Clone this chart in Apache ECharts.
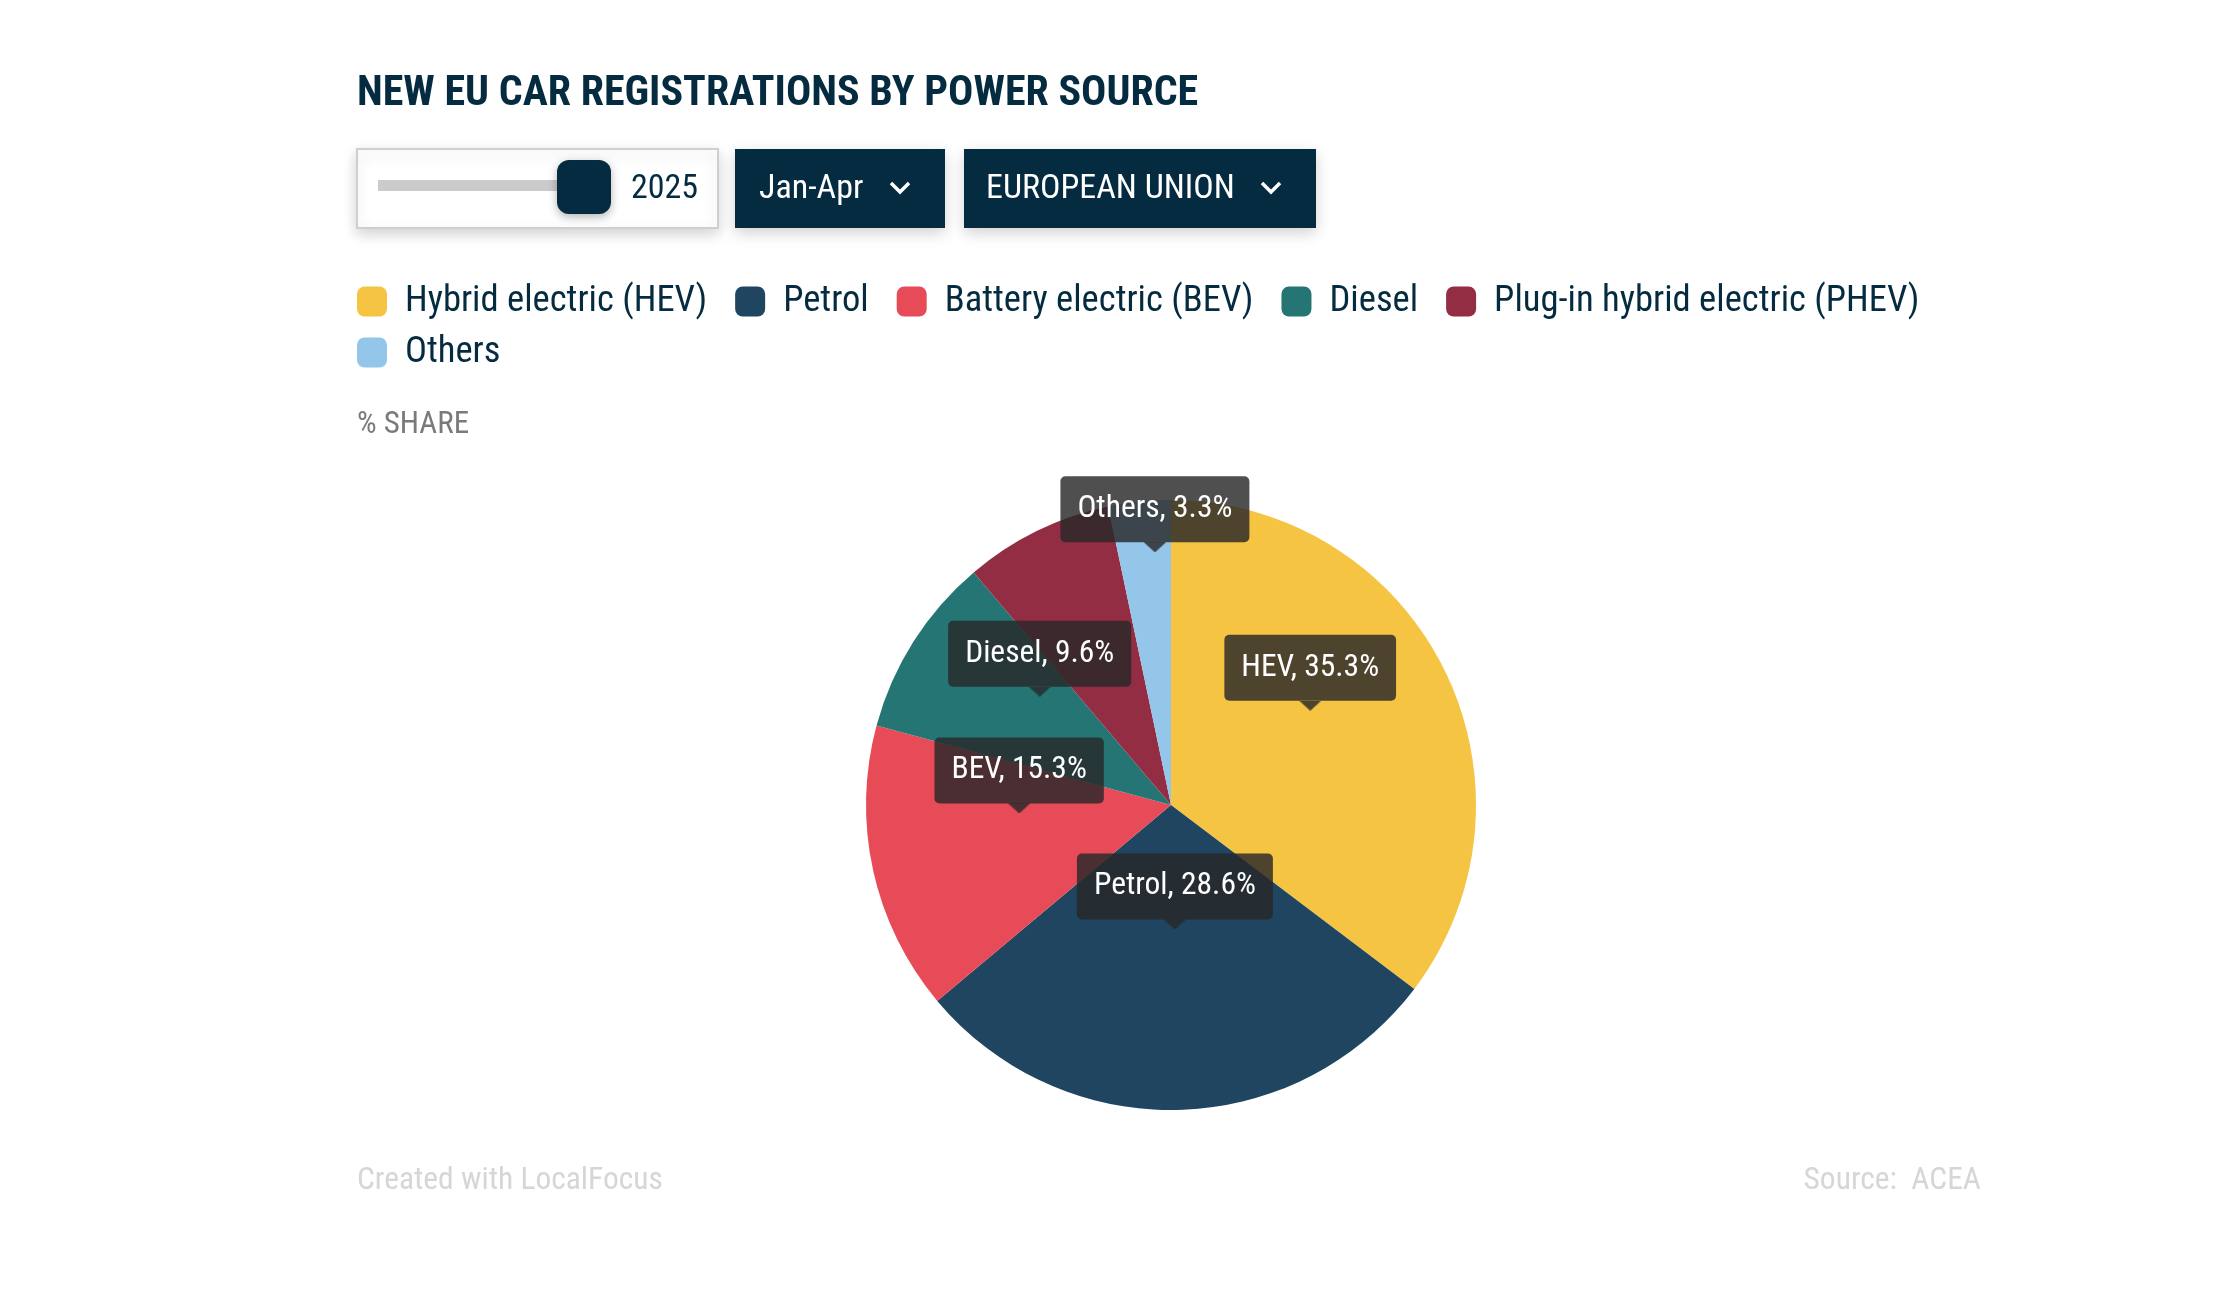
<!DOCTYPE html>
<html>
<head>
    <meta charset="UTF-8">
    <title>New EU car registrations by power source</title>
    <script type="text/javascript" src="https://cdn.jsdelivr.net/npm/echarts@6/dist/echarts.min.js"></script>
    <style>
        body,html{ padding:0px; margin:0px; background:#fff;}
        #chart_box{ width:2222px; height:1294px; }
    </style>
</head>
<body>
<div id="chart_box"></div>
<script type="text/javascript">
// data (% share, Jan-Apr 2025, EU)
var categories = ['Hybrid electric (HEV)', 'Petrol', 'Battery electric (BEV)', 'Diesel', 'Plug-in hybrid electric (PHEV)', 'Others'];
var shortNames = ['HEV', 'Petrol', 'BEV', 'Diesel', 'PHEV', 'Others'];
var shares = [35.3, 28.6, 15.3, 9.6, 7.9, 3.3];
var colors = ['#F6C443', '#1F4560', '#E84B58', '#247573', '#922D43', '#93C6E8'];

var FONT = '"Roboto Condensed", Roboto, sans-serif';
var NAVY = '#052B40';
var TIP = 'rgba(40,40,40,0.82)';

// how far each tooltip sits above its slice point (Others is pushed up so it clears PHEV)
var labelLift = [-46, -52, -46, -46, -46, -119];

// little pointer under each tooltip box
var arrow = document.createElement('canvas');
arrow.width = 22;
arrow.height = 10;
var actx = arrow.getContext('2d');
actx.fillStyle = TIP;
actx.beginPath();
actx.moveTo(0, 0);
actx.lineTo(22, 0);
actx.lineTo(11, 10);
actx.closePath();
actx.fill();

var myChart = echarts.init(document.getElementById('chart_box'));

var pieData = shares.map(function (v, i) {
    return {
        name: categories[i],
        value: v,
        itemStyle: { color: colors[i] },
        label: { offset: [0, labelLift[i]] }
    };
});

var option = {
    animation: false,
    title: {
        text: 'NEW EU CAR REGISTRATIONS BY POWER SOURCE',
        left: 352,
        top: 68,
        textStyle: { fontFamily: FONT, fontWeight: 'bold', fontSize: 42, color: NAVY }
    },
    legend: [{
        data: categories.slice(0, 5),
        left: 352, top: 278,
        orient: 'horizontal',
        icon: 'roundRect',
        itemWidth: 30, itemHeight: 30, itemGap: 28,
        textStyle: { fontFamily: FONT, fontSize: 36.6, color: NAVY, padding: [0, 0, 0, 13] }
    }, {
        data: categories.slice(5),
        left: 352, top: 329,
        icon: 'roundRect',
        itemWidth: 30, itemHeight: 30,
        textStyle: { fontFamily: FONT, fontSize: 36.6, color: NAVY, padding: [0, 0, 0, 13] }
    }],
    graphic: [
        // year slider
        { type: 'rect', shape: { x: 357, y: 149, width: 361, height: 79 },
          style: { fill: '#fff', stroke: '#cfcfcf', lineWidth: 2, shadowBlur: 14, shadowOffsetY: 5, shadowColor: 'rgba(0,0,0,0.18)' } },
        { type: 'rect', shape: { x: 378, y: 180, width: 190, height: 11 }, style: { fill: '#cbcbcb' } },
        { type: 'rect', shape: { x: 557, y: 160, width: 54, height: 54, r: 12 },
          style: { fill: NAVY, shadowBlur: 10, shadowOffsetY: 3, shadowColor: 'rgba(0,0,0,0.3)' } },
        { type: 'text', x: 631, y: 189,
          style: { text: '2025', fontFamily: FONT, fontSize: 34, fill: NAVY, verticalAlign: 'middle' } },
        // period dropdown
        { type: 'rect', shape: { x: 735, y: 149, width: 210, height: 79 },
          style: { fill: NAVY, shadowBlur: 14, shadowOffsetY: 5, shadowColor: 'rgba(0,0,0,0.18)' } },
        { type: 'text', x: 759, y: 189,
          style: { text: 'Jan-Apr', fontFamily: FONT, fontSize: 34, fill: '#fff', verticalAlign: 'middle' } },
        { type: 'polyline', shape: { points: [[891, 183], [900, 192], [909, 183]] },
          style: { stroke: '#fff', lineWidth: 3.5, fill: null } },
        // region dropdown
        { type: 'rect', shape: { x: 964, y: 149, width: 352, height: 79 },
          style: { fill: NAVY, shadowBlur: 14, shadowOffsetY: 5, shadowColor: 'rgba(0,0,0,0.18)' } },
        { type: 'text', x: 986, y: 189,
          style: { text: 'EUROPEAN UNION', fontFamily: FONT, fontSize: 34, fill: '#fff', verticalAlign: 'middle' } },
        { type: 'polyline', shape: { points: [[1262, 183], [1271, 192], [1280, 183]] },
          style: { stroke: '#fff', lineWidth: 3.5, fill: null } },
        // captions
        { type: 'text', x: 357, y: 425,
          style: { text: '% SHARE', fontFamily: FONT, fontSize: 31, fill: '#7a7a7a', verticalAlign: 'middle' } },
        { type: 'text', x: 357, y: 1181,
          style: { text: 'Created with LocalFocus', fontFamily: FONT, fontSize: 31.5, fill: '#d6d6d6', verticalAlign: 'middle' } },
        { type: 'text', x: 1981, y: 1181,
          style: { text: 'Source:  ACEA', fontFamily: FONT, fontSize: 31.5, fill: '#d6d6d6', align: 'right', verticalAlign: 'middle' } }
    ],
    series: [{
        name: '% share',
        type: 'pie',
        center: [1171, 805],
        radius: 305,
        startAngle: 90,
        clockwise: true,
        silent: true,
        itemStyle: { borderWidth: 0 },
        label: {
            show: true,
            position: 'inside',
            formatter: function (p) {
                return '{b|' + shortNames[p.dataIndex] + ', ' + p.value.toFixed(1) + '%}\n{a| }';
            },
            rich: {
                b: { color: '#fff', fontFamily: FONT, fontSize: 31.5, lineHeight: 32,
                     backgroundColor: TIP, borderRadius: 5, padding: [17, 17, 17, 17] },
                a: { width: 22, height: 10, lineHeight: 44, backgroundColor: { image: arrow } }
            }
        },
        labelLine: { show: false },
        data: pieData
    }]
};

myChart.setOption(option);
</script>
</body>
</html>
